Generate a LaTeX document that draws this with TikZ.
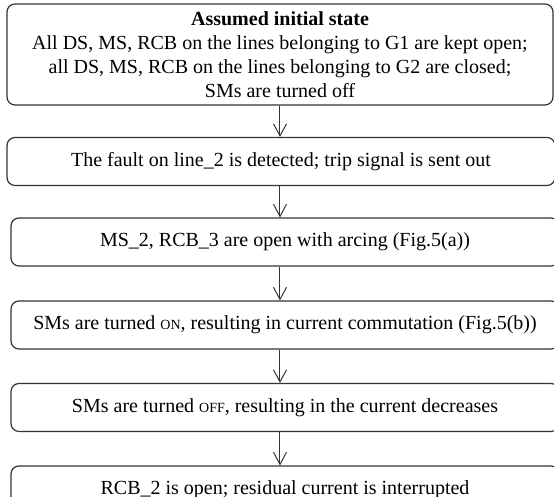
\documentclass[tikz,border=0pt]{standalone}
\usepackage{fontspec}
\setmainfont{Liberation Serif}
\usetikzlibrary{arrows.meta}

\newcommand{\smallcap}[1]{{\fontsize{7}{8}\selectfont #1}}

\tikzset{
  stepbox/.style={draw=black!80, line width=0.6pt, rounded corners=4pt,
    minimum width=274pt, minimum height=24pt, align=center, inner sep=2pt},
  flow/.style={draw=black!80, line width=0.5pt,
    -{Straight Barb[length=6pt,width=6.5pt]}},
}

\begin{document}
\begin{tikzpicture}[x=0.5pt,y=0.5pt]
    \useasboundingbox (0,0) rectangle (554,497);
    \clip (0,0) rectangle (554,497);

    \node[stepbox, minimum width=273pt, minimum height=50.5pt] (init) at (280,442.5)
      {\textbf{Assumed initial state}\\
       All DS, MS, RCB on the lines belonging to G1 are kept open;\\
       all DS, MS, RCB on the lines belonging to G2 are closed;\\
       SMs are turned off};
    \node[stepbox] (fault) at (281,335.5)
      {The fault on line\_2 is detected; trip signal is sent out};
    \node[stepbox] (arc) at (285,255)
      {MS\_2, RCB\_3 are open with arcing (Fig.5(a))};
    \node[stepbox] (smon) at (285,172)
      {SMs are turned \smallcap{ON}, resulting in current commutation (Fig.5(b))};
    \node[stepbox] (smoff) at (285,89.5)
      {SMs are turned \smallcap{OFF}, resulting in the current decreases};
    \node[stepbox] (rcb) at (285,7)
      {RCB\_2 is open; residual current is interrupted};

    \draw[flow] (init.south) -- (init.south |- fault.north);
    \draw[flow] (init.south |- fault.south) -- (init.south |- arc.north);
    \draw[flow] (init.south |- arc.south) -- (init.south |- smon.north);
    \draw[flow] (init.south |- smon.south) -- (init.south |- smoff.north);
    \draw[flow] (init.south |- smoff.south) -- (init.south |- rcb.north);
\end{tikzpicture}
\end{document}
